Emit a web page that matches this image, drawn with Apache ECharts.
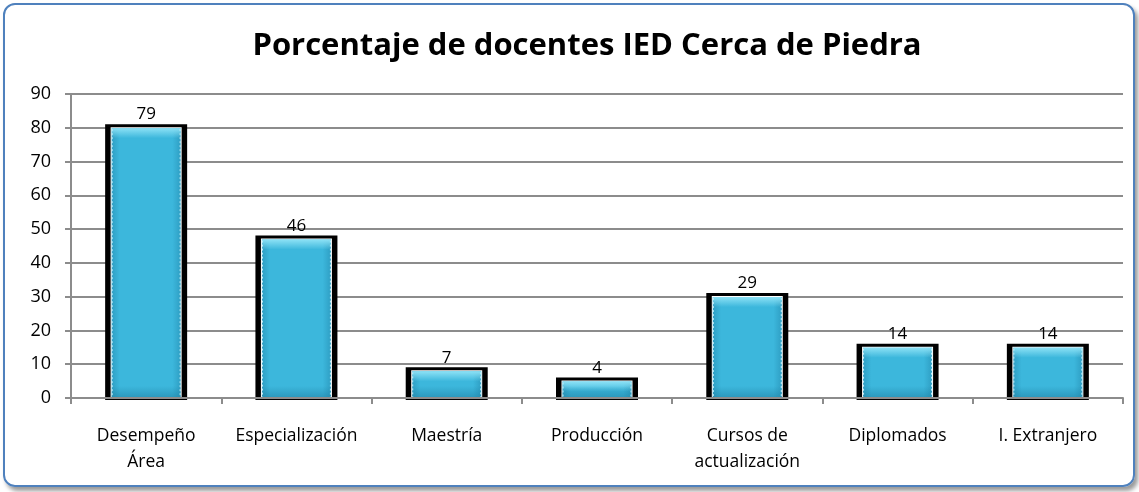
<!DOCTYPE html>
<html>
<head>
<meta charset="utf-8">
<script src="https://cdn.jsdelivr.net/npm/echarts@6/dist/echarts.min.js"></script>
<style>
  body { margin: 0; background: #fff; }
  .frame {
    position: absolute; left: 3px; top: 3px; width: 1128px; height: 480px;
    border: 2px solid #4f81bd; border-radius: 12px;
    box-shadow: 3px 4px 4px #9a9a9a;
  }
  #chart { position: absolute; left: 0; top: 0; width: 1139px; height: 492px; }
</style>
</head>
<body>
<div class="frame"></div>
<div id="chart"></div>
<script>
// categorías y valores del gráfico
const categorias = ['Desempeño\nÁrea', 'Especialización', 'Maestría', 'Producción', 'Cursos de\nactualización', 'Diplomados', 'I. Extranjero']
const valores = [79, 46, 7, 4, 29, 14, 14]
const ejeY = { min: 0, max: 90, intervalo: 10 }

const myChart = echarts.init(document.querySelector('#chart'))
const gris = '#8c8c8c'
const fuente = '"Open Sans", sans-serif'

// barra con marco negro, filo blanco y relleno azul biselado
function dibujarBarra(params, api) {
    const top = api.coord([api.value(0), api.value(1)])
    const base = api.coord([api.value(0), 0])
    const cx = top[0]
    const ty = top[1] - 7
    const by = base[1]
    return {
        type: 'group',
        children: [
            { type: 'rect', shape: { x: cx - 41, y: ty, width: 82, height: by + 2 - ty }, style: { fill: '#000' } },
            { type: 'rect', shape: { x: cx - 35.5, y: ty + 3, width: 71, height: by - ty - 3 }, style: { fill: '#fff' } },
            {
                type: 'rect', shape: { x: cx - 34.5, y: ty + 4, width: 69, height: by - ty - 4 },
                style: {
                    fill: new echarts.graphic.LinearGradient(0, 0, 1, 0, [
                        { offset: 0, color: '#2f9fc4' },
                        { offset: 0.12, color: '#3cb7dc' },
                        { offset: 0.88, color: '#3cb7dc' },
                        { offset: 1, color: '#2f9fc4' }
                    ])
                }
            },
            {
                type: 'rect', shape: { x: cx - 34.5, y: ty + 4, width: 69, height: Math.min(10, by - ty - 4) },
                style: {
                    fill: new echarts.graphic.LinearGradient(0, 0, 0, 1, [
                        { offset: 0, color: 'rgba(140,225,245,1)' },
                        { offset: 1, color: 'rgba(140,225,245,0)' }
                    ])
                }
            },
            {
                type: 'rect', shape: { x: cx - 34.5, y: by - 12, width: 69, height: 12 },
                style: {
                    fill: new echarts.graphic.LinearGradient(0, 0, 0, 1, [
                        { offset: 0, color: 'rgba(30,130,165,0)' },
                        { offset: 1, color: 'rgba(30,130,165,0.6)' }
                    ])
                }
            },
            { type: 'line', shape: { x1: cx - 34, y1: ty + 5, x2: cx - 34, y2: by }, style: { stroke: '#c8f0fa', lineWidth: 1, lineDash: [2, 2] } },
            { type: 'line', shape: { x1: cx + 34, y1: ty + 5, x2: cx + 34, y2: by }, style: { stroke: '#c8f0fa', lineWidth: 1, lineDash: [2, 2] } },
            {
                type: 'text', x: cx, y: ty - 1,
                style: { text: String(api.value(1)), textAlign: 'center', textVerticalAlign: 'bottom', fontSize: 17, fontFamily: fuente, fill: '#000' }
            }
        ]
    }
}

const option = {
    animation: false,
    title: {
        text: 'Porcentaje de docentes IED Cerca de Piedra',
        left: 582,
        textAlign: 'center',
        top: 26,
        textStyle: { fontSize: 31, fontWeight: 'bold', color: '#000', fontFamily: fuente }
    },
    grid: { left: 71, right: 16, top: 94, bottom: 94 },
    xAxis: {
        type: 'category',
        data: categorias,
        z: 5,
        axisLine: { lineStyle: { color: gris, width: 2 } },
        axisTick: { show: true, length: 6, lineStyle: { color: gris, width: 2 } },
        axisLabel: { color: '#000', fontSize: 17.5, lineHeight: 26, margin: 25, fontFamily: fuente, interval: 0 }
    },
    yAxis: {
        type: 'value',
        min: ejeY.min,
        max: ejeY.max,
        interval: ejeY.intervalo,
        axisLine: { show: true, lineStyle: { color: gris, width: 2 } },
        axisTick: { show: true, length: 6, lineStyle: { color: gris, width: 2 } },
        axisLabel: { color: '#000', fontSize: 18, margin: 20, fontFamily: fuente },
        splitLine: { lineStyle: { color: gris, width: 2 } }
    },
    series: [
        {
            type: 'custom',
            renderItem: dibujarBarra,
            encode: { x: 0, y: 1 },
            data: valores.map((v, i) => [i, v]),
            z: 2
        }
    ]
}
myChart.setOption(option)
</script>
</body>
</html>
